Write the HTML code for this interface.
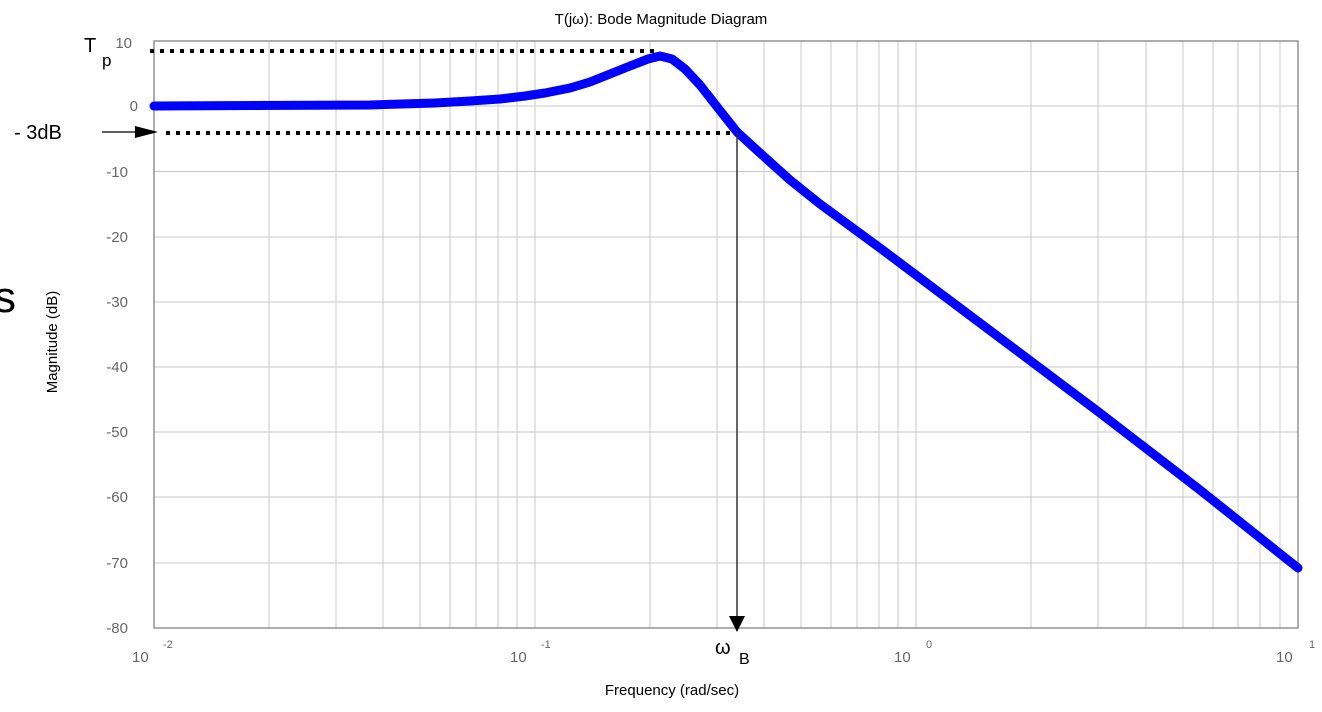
<!DOCTYPE html>
<html><head><style>body{margin:0;background:#fff}svg{display:block}text{font-family:"Liberation Sans",sans-serif}</style></head><body>
<svg width="1322" height="712" xmlns="http://www.w3.org/2000/svg">
<g stroke="#c8c8c8" stroke-width="1">
<line x1="154" y1="106" x2="1298" y2="106"/><line x1="154" y1="171.5" x2="1298" y2="171.5"/><line x1="154" y1="237" x2="1298" y2="237"/><line x1="154" y1="302" x2="1298" y2="302"/><line x1="154" y1="367" x2="1298" y2="367"/><line x1="154" y1="432" x2="1298" y2="432"/><line x1="154" y1="497" x2="1298" y2="497"/><line x1="154" y1="563" x2="1298" y2="563"/>
<line x1="269" y1="41" x2="269" y2="628"/><line x1="336" y1="41" x2="336" y2="628"/><line x1="383" y1="41" x2="383" y2="628"/><line x1="420" y1="41" x2="420" y2="628"/><line x1="450" y1="41" x2="450" y2="628"/><line x1="476" y1="41" x2="476" y2="628"/><line x1="498" y1="41" x2="498" y2="628"/><line x1="517" y1="41" x2="517" y2="628"/><line x1="535" y1="41" x2="535" y2="628"/>
<line x1="650" y1="41" x2="650" y2="628"/><line x1="717" y1="41" x2="717" y2="628"/><line x1="764" y1="41" x2="764" y2="628"/><line x1="801" y1="41" x2="801" y2="628"/><line x1="831" y1="41" x2="831" y2="628"/><line x1="857" y1="41" x2="857" y2="628"/><line x1="879" y1="41" x2="879" y2="628"/><line x1="898" y1="41" x2="898" y2="628"/><line x1="916" y1="41" x2="916" y2="628"/>
<line x1="1031" y1="41" x2="1031" y2="628"/><line x1="1098" y1="41" x2="1098" y2="628"/><line x1="1146" y1="41" x2="1146" y2="628"/><line x1="1183" y1="41" x2="1183" y2="628"/><line x1="1213" y1="41" x2="1213" y2="628"/><line x1="1238" y1="41" x2="1238" y2="628"/><line x1="1260" y1="41" x2="1260" y2="628"/><line x1="1280" y1="41" x2="1280" y2="628"/>
</g>
<rect x="154" y="41" width="1144" height="587" fill="none" stroke="#777" stroke-width="1.2"/>
<g font-size="15" fill="#666" text-anchor="end">
<text x="138" y="111">0</text><text x="128" y="177">-10</text><text x="128" y="242">-20</text><text x="128" y="307">-30</text><text x="128" y="372">-40</text><text x="128" y="437">-50</text><text x="128" y="502">-60</text><text x="128" y="568">-70</text><text x="128" y="633">-80</text><text x="132" y="48">10</text>
</g>
<g font-size="15" fill="#666">
<text x="132" y="662">10</text><text x="163" y="648" font-size="11">-2</text>
<text x="510" y="662">10</text><text x="541" y="648" font-size="11">-1</text>
<text x="894" y="662">10</text><text x="926" y="648" font-size="11">0</text>
<text x="1276" y="662">10</text><text x="1309" y="648" font-size="11">1</text>
</g>
<text x="661" y="24" font-size="15" text-anchor="middle">T(jω): Bode Magnitude Diagram</text>
<text x="672" y="695" font-size="15" text-anchor="middle">Frequency (rad/sec)</text>
<text transform="translate(57,342) rotate(-90)" font-size="15" text-anchor="middle">Magnitude (dB)</text>
<text x="-6" y="312" font-size="44">s</text>
<text x="84" y="52" font-size="20">T</text><text x="102" y="66" font-size="17">p</text>
<text x="14" y="139" font-size="20">- 3dB</text>
<text x="715" y="654" font-size="20">ω</text><text x="739" y="664" font-size="16">B</text>
<polyline fill="none" stroke="#0000ff" stroke-width="9" stroke-linejoin="round" stroke-linecap="round" points="154,106 370,105 435,103 470,101 500,99 525,96 545,93 570,88 590,82 610,74 630,66 648,59 660,56 672,59 685,69 700,85 718,108 737,132 760,153 790,180 820,204 850,226 880,248 916,275 1000,338 1100,413 1200,490 1298,568"/>
<line x1="150" y1="51" x2="657" y2="51" stroke="#000" stroke-width="4" stroke-dasharray="4,6"/>
<line x1="166" y1="133" x2="737" y2="133" stroke="#000" stroke-width="4" stroke-dasharray="4,6"/>
<line x1="737" y1="133" x2="737" y2="620" stroke="#333" stroke-width="1.5"/>
<polygon points="729,616 745,616 737,632" fill="#000"/>
<line x1="102" y1="132" x2="140" y2="132" stroke="#000" stroke-width="1.2"/>
<polygon points="135,126 158,132 135,138" fill="#000"/>
</svg>
</body></html>
